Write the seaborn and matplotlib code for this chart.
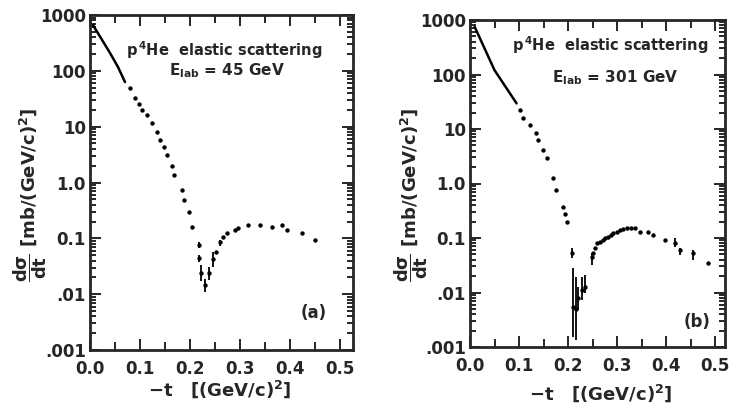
import numpy as np
import matplotlib
matplotlib.use("Agg")
import matplotlib.pyplot as plt
import seaborn as sns

# Panel (a): E_lab = 45 GeV
a_line_t = [0.006, 0.040, 0.056, 0.070]
a_line_y = [660, 209, 117, 63]

a_pts_t = [0.080, 0.090, 0.097, 0.103, 0.113, 0.123, 0.133, 0.140, 0.147, 0.153,
           0.163, 0.167, 0.183, 0.187, 0.197, 0.203,
           0.252, 0.266, 0.274, 0.290, 0.296, 0.316, 0.340, 0.364, 0.384, 0.394,
           0.424, 0.450]
a_pts_y = [49, 32, 25, 20, 16, 11.5, 8.1, 5.8, 4.4, 3.1,
           2.0, 1.35, 0.72, 0.48, 0.30, 0.16,
           0.056, 0.105, 0.123, 0.141, 0.151, 0.174, 0.174, 0.158, 0.174, 0.141,
           0.123, 0.093]

a_err_t = [0.217, 0.217, 0.222, 0.230, 0.238, 0.246, 0.260]
a_err_y = [0.076, 0.044, 0.024, 0.0145, 0.024, 0.042, 0.085]
a_err_lo = [0.066, 0.037, 0.017, 0.011, 0.018, 0.031, 0.072]
a_err_hi = [0.085, 0.050, 0.033, 0.019, 0.031, 0.056, 0.095]

# Panel (b): E_lab = 301 GeV
b_line_t = [0.0095, 0.050, 0.095]
b_line_y = [750, 120, 29.5]

b_pts_t = [0.101, 0.108, 0.122, 0.135, 0.139, 0.149, 0.156, 0.169, 0.176, 0.190,
           0.193, 0.197,
           0.251, 0.255, 0.259, 0.265, 0.271, 0.276, 0.282, 0.287, 0.292, 0.299,
           0.306, 0.313, 0.320, 0.328, 0.337, 0.347, 0.363, 0.373, 0.398, 0.486]
b_pts_y = [22, 16, 11.7, 8.3, 6.3, 4.1, 2.9, 1.26, 0.76, 0.37,
           0.28, 0.20,
           0.052, 0.065, 0.081, 0.085, 0.091, 0.098, 0.105, 0.112, 0.123, 0.130,
           0.141, 0.146, 0.151, 0.150, 0.151, 0.129, 0.129, 0.115, 0.091, 0.035]

b_err_t = [0.208, 0.210, 0.216, 0.220, 0.229, 0.235, 0.249, 0.418, 0.429, 0.455]
b_err_y = [0.052, 0.0055, 0.005, 0.008, 0.011, 0.0125, 0.045, 0.081, 0.060, 0.052]
b_err_lo = [0.043, 0.0015, 0.00135, 0.0048, 0.0072, 0.0098, 0.032, 0.069, 0.049, 0.040]
b_err_hi = [0.065, 0.028, 0.019, 0.0126, 0.019, 0.021, 0.052, 0.100, 0.066, 0.060]

y_ticks = [1e-3, 1e-2, 1e-1, 1, 10, 100, 1000]
y_tick_labels = ['.001', '.01', '0.1', '1.0', '10', '100', '1000']
x_ticks = [0.0, 0.1, 0.2, 0.3, 0.4, 0.5]
x_tick_labels = ['0.0', '0.1', '0.2', '0.3', '0.4', '0.5']

sns.set_style("ticks")
plt.rcParams['font.family'] = ['DejaVu Sans']
plt.rcParams['font.weight'] = 'bold'
plt.rcParams['mathtext.fontset'] = 'dejavusans'
plt.rcParams['mathtext.default'] = 'bf'

W, H = 735, 407
fig = plt.figure(figsize=(W / 100, H / 100), dpi=100)


def box(x0, x1, y0, y1):
    # pixel box -> figure fraction
    return [x0 / W, (H - y1) / H, (x1 - x0) / W, (y1 - y0) / H]


def draw_panel(ax, line_t, line_y, pts_t, pts_y, err_t, err_y, err_lo, err_hi, xmax):
    sns.lineplot(x=line_t, y=line_y, ax=ax, color='k', lw=1.8, sort=False)
    sns.scatterplot(x=pts_t, y=pts_y, ax=ax, color='k', s=10, linewidth=0, marker='o')
    sns.scatterplot(x=err_t, y=err_y, ax=ax, color='k', s=10, linewidth=0, marker='o')
    ax.vlines(err_t, err_lo, err_hi, color='k', lw=1.3)
    ax.set_yscale('log')
    ax.set_ylim(1e-3, 1e3)
    ax.set_xlim(0, xmax)
    ax.set_yticks(y_ticks)
    ax.set_yticklabels(y_tick_labels)
    ax.set_xticks(x_ticks)
    ax.set_xticklabels(x_tick_labels)
    ax.xaxis.set_minor_locator(matplotlib.ticker.MultipleLocator(0.05))
    ax.yaxis.set_minor_locator(matplotlib.ticker.LogLocator(base=10, subs=np.arange(2, 10)))
    ax.yaxis.set_minor_formatter(matplotlib.ticker.NullFormatter())
    ax.tick_params(which='both', direction='in', top=True, right=True, width=1.4)
    ax.tick_params(which='major', length=8, labelsize=12)
    ax.tick_params(axis='y', which='major', pad=3)
    ax.tick_params(axis='x', which='major', pad=7)
    ax.tick_params(which='minor', length=4)
    ax.tick_params(axis='x', which='minor', length=6)
    for s in ax.spines.values():
        s.set_linewidth(2)
        s.set_visible(True)
    ax.set_xlabel('')
    ax.set_ylabel('')


ax1 = fig.add_axes(box(90, 353, 15, 350))
draw_panel(ax1, a_line_t, a_line_y, a_pts_t, a_pts_y, a_err_t, a_err_y, a_err_lo, a_err_hi, 0.526)
ax1.text(0.51, 0.895, r'p$^{\,4}$He  elastic scattering', transform=ax1.transAxes,
         ha='center', va='center', fontsize=10.5, fontweight='bold')
ax1.text(0.52, 0.835, r'E$_{lab}$ = 45 GeV', transform=ax1.transAxes,
         ha='center', va='center', fontsize=11, fontweight='bold')
ax1.text(0.85, 0.11, '(a)', transform=ax1.transAxes,
         ha='center', va='center', fontsize=12, fontweight='bold')

ax2 = fig.add_axes(box(470, 725, 20, 347))
draw_panel(ax2, b_line_t, b_line_y, b_pts_t, b_pts_y, b_err_t, b_err_y, b_err_lo, b_err_hi, 0.52)
ax2.text(0.55, 0.924, r'p$^{\,4}$He  elastic scattering', transform=ax2.transAxes,
         ha='center', va='center', fontsize=10.5, fontweight='bold')
ax2.text(0.57, 0.825, r'E$_{lab}$ = 301 GeV', transform=ax2.transAxes,
         ha='center', va='center', fontsize=11, fontweight='bold')
ax2.text(0.89, 0.076, '(b)', transform=ax2.transAxes,
         ha='center', va='center', fontsize=12, fontweight='bold')

ylab = r'$\dfrac{d\sigma}{dt}\ \left[mb/(GeV/c)^{2}\right]$'
xlab = r'$-t\ \ \ \left[(GeV/c)^{2}\right]$'
fig.text(30 / W, 1 - 195 / H, ylab, rotation=90, ha='center', va='center', fontsize=13)
fig.text(411 / W, 1 - 195 / H, ylab, rotation=90, ha='center', va='center', fontsize=13)
fig.text(220 / W, 1 - 389 / H, xlab, ha='center', va='center', fontsize=13)
fig.text(601 / W, 1 - 393 / H, xlab, ha='center', va='center', fontsize=13)

fig.savefig('out.png', dpi=100)
